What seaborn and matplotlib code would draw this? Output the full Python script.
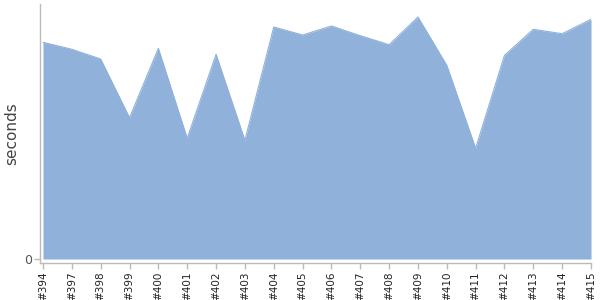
import matplotlib
matplotlib.use("Agg")
import matplotlib.pyplot as plt
import seaborn as sns
import pandas as pd

builds = ["#394", "#397", "#398", "#399", "#400", "#401", "#402", "#403", "#404", "#405",
          "#406", "#407", "#408", "#409", "#410", "#411", "#412", "#413", "#414", "#415"]
seconds = [216.7, 209.7, 200.0, 141.3, 210.7, 120.7, 204.7, 118.7, 232.0, 224.0,
           233.0, 223.3, 214.3, 242.0, 193.7, 110.7, 203.7, 229.7, 225.3, 239.7]

df = pd.DataFrame({"build": builds, "seconds": seconds, "pos": range(len(builds))})

sns.set_style("white")
fig = plt.figure(figsize=(6, 3), dpi=100)
ax = fig.add_axes([40 / 600, 1 - 263 / 300, 551 / 600, 259 / 300])

color = "#8fb1da"
sns.lineplot(data=df, x="pos", y="seconds", ax=ax, color=color, linewidth=0.8)
ax.fill_between(df["pos"], df["seconds"], 0, color=color, linewidth=0)

ax.set_xlim(-0.104, len(builds) - 1)
ax.set_ylim(-4, 255)
ax.set_xticks(df["pos"])
ax.set_xticklabels(builds, rotation=90, fontsize=7.5, color="#222")
ax.set_yticks([0])
ax.set_yticklabels(["0"], fontsize=9, color="#555")
ax.set_xlabel("")
ax.set_ylabel("seconds", fontsize=11, color="#444")
ax.yaxis.set_label_coords(-21 / 551, 0.5)

for s in ["top", "right"]:
    ax.spines[s].set_visible(False)
for s in ["left", "bottom"]:
    ax.spines[s].set_color("#bbbbbb")
    ax.spines[s].set_linewidth(1)
ax.tick_params(axis="both", which="both", length=4, width=1, color="#bbbbbb", pad=2,
               bottom=True, left=True)

fig.savefig("out.png", dpi=100)
